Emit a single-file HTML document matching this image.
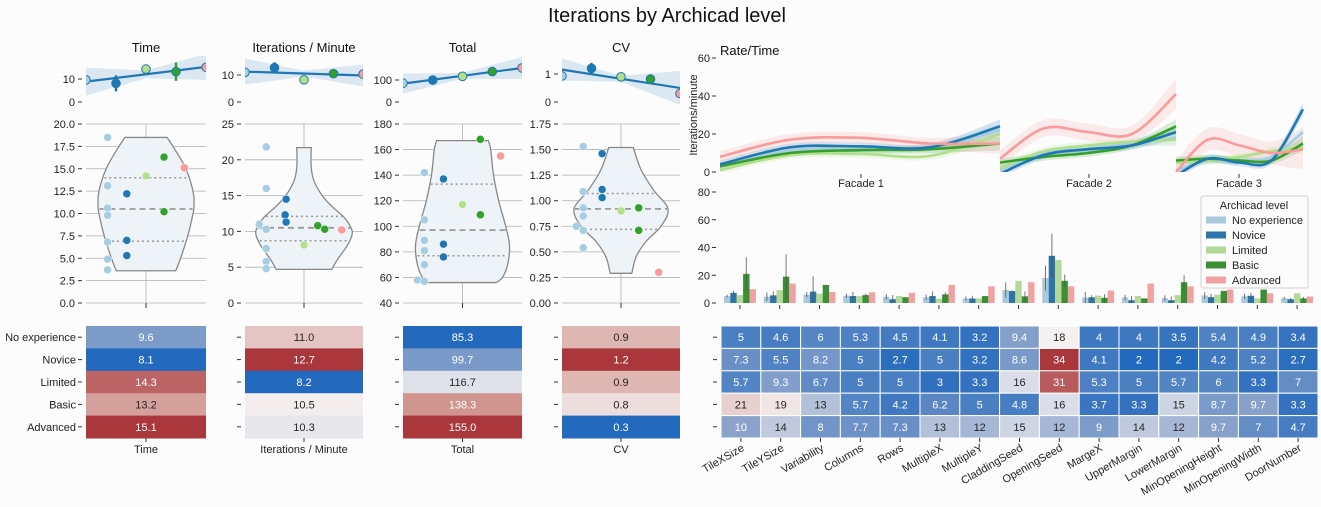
<!DOCTYPE html>
<html><head><meta charset="utf-8">
<style>
html,body{margin:0;padding:0;background:#fcfcfc;}
svg{display:block;font-family:"Liberation Sans","DejaVu Sans",sans-serif;}
</style></head>
<body>
<svg id="fig" width="1321" height="507" viewBox="0 0 1321 507" xmlns="http://www.w3.org/2000/svg">
<rect x="0" y="0" width="1321" height="507" fill="#fcfcfc"/>
<text x="667" y="22" font-size="20" text-anchor="middle" fill="#111">Iterations by Archicad level</text>
</svg>
<script>
// ---------- DATA ----------
const levels = ["No experience","Novice","Limited","Basic","Advanced"];
const levelColors = ["#a6cee3","#1f78b4","#b2df8a","#33a02c","#fb9a99"];
const barColors = ["#abc9dc","#2e74a8","#b3d898","#3a8f34","#efa2a1"];

const metricNames = ["Time","Iterations / Minute","Total","CV"];
const timeMeans = [9.6, 8.1, 14.3, 13.2, 15.1];
const iterMeans = [11.0, 12.7, 8.2, 10.5, 10.3];
const totalMeans = [85.3, 99.7, 116.7, 138.3, 155.0];
const cvMeans = [0.9, 1.2, 0.9, 0.8, 0.3];
const cvMeansExact = [0.93, 1.2, 0.9, 0.82, 0.3];
const timeErr = [0, 3.5, 0, 4, 0];
const iterErr = [0, 2, 0, 0.5, 0];
const totalErr = [0, 14, 0, 13, 0];
const cvErr = [0, 0.2, 0, 0.1, 0];

const timeTicks = ["0.0","2.5","5.0","7.5","10.0","12.5","15.0","17.5","20.0"];
const iterTicks = ["0","5","10","15","20","25"];
const totalTicks = ["40","60","80","100","120","140","160","180"];
const cvTicks = ["0.00","0.25","0.50","0.75","1.00","1.25","1.50","1.75"];

const timePtsLevel = [0,0,0,0,0,0,0,1,1,1,2,3,3,4];
const timePtsValue = [18.5,13.1,10.6,9.8,6.8,4.9,3.7,12.2,7.0,5.3,14.2,16.3,10.2,15.1];
const iterPtsLevel = [0,0,0,0,0,0,0,1,1,1,2,3,3,4];
const iterPtsValue = [21.8,16.0,11.0,10.3,7.6,5.8,4.8,14.5,12.3,11.3,8.1,10.8,10.3,10.2];
const totalPtsLevel = [0,0,0,0,0,0,0,1,1,1,2,3,3,4];
const totalPtsValue = [142,105,89,81,70,58,57,137,86,76,117,168,109,155];
const cvPtsLevel = [0,0,0,0,0,0,0,1,1,1,2,3,3,4];
const cvPtsValue = [1.53,1.09,0.93,0.85,0.75,0.71,0.54,1.46,1.11,1.03,0.90,0.93,0.71,0.30];

const timeViolinV = [3.6,5,7.5,10,11,12.5,15,17,18.5];
const timeViolinW = [0.62,0.72,0.87,0.98,1.0,0.98,0.83,0.62,0.44];
const iterViolinV = [4.7,6,8,9.5,10.5,12,13.5,15,17,19,21.7];
const iterViolinW = [0.58,0.69,0.9,1.0,0.98,0.83,0.58,0.38,0.21,0.15,0.15];
const totalViolinV = [56,60,70,85,100,120,140,160,167];
const totalViolinW = [0.72,0.85,0.96,1.0,0.92,0.77,0.66,0.6,0.55];
const cvViolinV = [0.29,0.45,0.6,0.75,0.92,1.1,1.3,1.52];
const cvViolinW = [0.23,0.32,0.53,0.85,1.0,0.7,0.43,0.26];
const timeQuart = [6.9,10.5,14.0];
const iterQuart = [8.7,10.5,12.1];
const totalQuart = [77,97,133];
const cvQuart = [0.72,0.92,1.07];

const facades = ["Facade 1","Facade 2","Facade 3"];
const rateTicks = ["0","20","40","60"];
const rateF1 = [[3,11,12,13,22],[4,13,13.5,13,24],[1,9,9.5,8.5,20],[3,10,11.5,12,15],[8,17,18,15,15]];
const rateF2 = [[1,10,12,15,18],[-1,9,12,14,21],[2,11,14,16,17],[5,8,10,14,24],[7,23,21,20,41]];
const rateF3 = [[1,6,6,8,21],[-2,7,5,6,33],[5,6,8,11,13],[6,7,6,6,15],[0,17,14,10,12]];

const features = ["TileXSize","TileYSize","Variability","Columns","Rows","MultipleX","MultipleY","CladdingSeed","OpeningSeed","MargeX","UpperMargin","LowerMargin","MinOpeningHeight","MinOpeningWidth","DoorNumber"];
const featNoExp = [5,4.6,6,5.3,4.5,4.1,3.2,9.4,18,4,4,3.5,5.4,4.9,3.4];
const featNovice = [7.3,5.5,8.2,5,2.7,5,3.2,8.6,34,4.1,2,2,4.2,5.2,2.7];
const featLimited = [5.7,9.3,6.7,5,5,3,3.3,16,31,5.3,5,5.7,6,3.3,7];
const featBasic = [21,19,13,5.7,4.2,6.2,5,4.8,16,3.7,3.3,15,8.7,9.7,3.3];
const featAdvanced = [10,14,8,7.7,7.3,13,12,15,12,9,14,12,9.7,7,4.7];
const errNoExp = [1,3,2,1.5,2,2,1.5,5.5,9,4,2,2,2.5,2,1];
const errNovice = [1.5,3,11,3,3,3.5,2,0.5,16,1.5,3,2.5,2.5,2,1];
const errLimited = [0,0,0,0,0,0,0,0,0,0,0,0,0,0,0];
const errBasic = [12,16,0,1,0,1.5,0,3.5,4.5,2.5,0,5,0,0,1];
const errAdvanced = [0,0,0,0,0,0,0,0,0,0,0,0,0,0,0];
const barTicks = ["0","20","40","60","80"];

// ---------- HELPERS ----------
const svg = document.getElementById('fig');
const NS = "http://www.w3.org/2000/svg";
function mk(tag, attrs, parent){
  const e = document.createElementNS(NS, tag);
  for (const k in attrs) e.setAttribute(k, attrs[k]);
  (parent||svg).appendChild(e);
  return e;
}
function txt(x,y,s,size,anchor,parent,fill){
  const t = mk('text',{x:x,y:y,'font-size':size||11,'text-anchor':anchor||'middle',fill:fill||'#222'},parent);
  t.textContent = s; return t;
}
const stops = [[0,[35,105,189]],[0.25,[139,163,203]],[0.5,[245,241,241]],[0.75,[210,152,147]],[1,[169,55,59]]];
function cmap(t){
  t=Math.max(0,Math.min(1,t));
  for(let i=0;i<stops.length-1;i++){
    const a=stops[i],b=stops[i+1];
    if(t<=b[0]){const f=(t-a[0])/(b[0]-a[0]);
      return a[1].map((c,j)=>Math.round(c+(b[1][j]-c)*f));}
  }
  return stops[4][1];
}
function lum(c){
  const l=c.map(v=>{v/=255;return v<=0.03928?v/12.92:Math.pow((v+0.055)/1.055,2.4);});
  return 0.2126*l[0]+0.7152*l[1]+0.0722*l[2];
}
function rgb(c){return 'rgb('+c.join(',')+')';}
function smoothPath(pts){
  let d='M'+pts[0][0]+','+pts[0][1];
  for(let i=0;i<pts.length-1;i++){
    const p0=pts[Math.max(0,i-1)],p1=pts[i],p2=pts[i+1],p3=pts[Math.min(pts.length-1,i+2)];
    const c1=[p1[0]+(p2[0]-p0[0])/6,p1[1]+(p2[1]-p0[1])/6];
    const c2=[p2[0]-(p3[0]-p1[0])/6,p2[1]-(p3[1]-p1[1])/6];
    d+=' C'+c1[0]+','+c1[1]+' '+c2[0]+','+c2[1]+' '+p2[0]+','+p2[1];
  }
  return d;
}
const defs = mk('defs',{});

// ---------- SMALL PANELS ----------
const panels = [
 {key:'time',lx:86,rx:206,means:timeMeans,err:timeErr,topMax:10,topY:79,topLabel:'10',
  ticks:timeTicks,vmin:0,vmax:20,ptsL:timePtsLevel,ptsV:timePtsValue,vV:timeViolinV,vW:timeViolinW,hw:48,q:timeQuart,
  heat:timeMeans,fmt:1,band:[10,4,9]},
 {key:'iterations',lx:245,rx:363,means:iterMeans,err:iterErr,topMax:10,topY:75,topLabel:'10',
  ticks:iterTicks,vmin:0,vmax:25,ptsL:iterPtsLevel,ptsV:iterPtsValue,vV:iterViolinV,vW:iterViolinW,hw:48,q:iterQuart,
  heat:iterMeans,fmt:1,band:[10,3,8]},
 {key:'total',lx:403,rx:522,means:totalMeans,err:totalErr,topMax:100,topY:80,topLabel:'100',
  ticks:totalTicks,vmin:40,vmax:180,ptsL:totalPtsLevel,ptsV:totalPtsValue,vV:totalViolinV,vW:totalViolinW,hw:47,q:totalQuart,
  heat:totalMeans,fmt:1,band:[7,3,8]},
 {key:'cv',lx:562,rx:680,means:cvMeansExact,err:cvErr,topMax:1,topY:74,topLabel:'1',
  ticks:cvTicks,vmin:0,vmax:1.75,ptsL:cvPtsLevel,ptsV:cvPtsValue,vV:cvViolinV,vW:cvViolinW,hw:47,q:cvQuart,
  heat:cvMeans,fmt:1,band:[8,3,14]}
];
const jitter = [0,0,-7,0,0,0,0,0,1,-1,0,0,2,0];
const jitterIter = [0,0,-7,0,0,0,0,1,0,1,0,-4,3,0];

panels.forEach((p,pi)=>{
  const g = mk('g',{});
  
  
  const cx=(p.lx+p.rx)/2, w=p.rx-p.lx;
  txt(cx,52,metricNames[pi],13,'middle',g,'#111');
  const ty = v => 102 - v/p.topMax*(102-p.topY);
  const xs = levels.map((_,i)=>p.lx+i*w/4);
  const cp = mk('clipPath',{id:'clip'+pi},defs);
  mk('rect',{x:p.lx,y:56,width:w,height:48},cp);
  const tg = mk('g',{'clip-path':'url(#clip'+pi+')'},g);
  
  
  const n=5, mx=2; let sxy=0,sxx=0,my=p.means.reduce((a,b)=>a+b)/n;
  p.means.forEach((v,i)=>{sxy+=(i-mx)*(v-my);sxx+=(i-mx)*(i-mx);});
  const slope=sxy/sxx, icpt=my-slope*mx;
  const fy = i=>ty(icpt+slope*i);
  let up='',dn='';
  for(let k=0;k<=20;k++){const i=k/5; const hb=p.band[1]+(Math.abs(i-2)/2)*(i<2?p.band[0]:p.band[2]);
    up+=(k?'L':'M')+(p.lx+i*w/4)+','+(fy(i)-hb)+' '; dn=' L'+(p.lx+i*w/4)+','+(fy(i)+hb)+dn;}
  const band=mk('path',{d:up+dn+'Z',fill:'#1f77b4','fill-opacity':0.15,stroke:'none'},tg);
  
  
  const ln=mk('line',{x1:p.lx,y1:fy(0),x2:p.rx,y2:fy(4),stroke:'#1f77b4','stroke-width':2.2},tg);
  
  
  p.means.forEach((v,i)=>{
    if(p.err[i]>0){
      const eb=mk('line',{x1:xs[i],x2:xs[i],y1:ty(v-p.err[i]),y2:ty(v+p.err[i]),stroke:levelColors[i]==='#a6cee3'?'#1f77b4':levelColors[i],'stroke-width':2.5},tg);
      
      
    }
    const c=mk('circle',{cx:xs[i],cy:ty(v),r:4.3,fill:levelColors[i],stroke:'#1f77b4','stroke-width':1},tg);
    
    
  });
  [[0,'0'],[p.topMax,p.topLabel]].forEach(t=>{
    mk('line',{x1:p.lx-8,x2:p.lx-4,y1:ty(t[0]),y2:ty(t[0]),stroke:'#333'},g);
    txt(p.lx-11,ty(t[0])+4,t[1],11,'end',g);
  });
  const vy = v => 303 - (v-p.vmin)/(p.vmax-p.vmin)*179;
  const vg = mk('g',{},g);
  
  
  p.ticks.forEach(t=>{
    const y=vy(parseFloat(t));
    mk('line',{x1:p.lx,x2:p.rx,y1:y,y2:y,stroke:'#b0b0b0','stroke-width':0.8},vg);
    mk('line',{x1:p.lx-8,x2:p.lx-4,y1:y,y2:y,stroke:'#333'},vg);
    const tl=txt(p.lx-11,y+4,t,11,'end',vg);
    
    
  });
  mk('line',{x1:cx,x2:cx,y1:124,y2:303,stroke:'#b0b0b0','stroke-width':0.8},vg);
  mk('line',{x1:cx,x2:cx,y1:303,y2:308,stroke:'#333'},vg);
  const R=[],L=[];
  p.vV.forEach((v,i)=>{R.push([cx+p.vW[i]*p.hw,vy(v)]);L.push([cx-p.vW[i]*p.hw,vy(v)]);});
  let d='M'+L[0][0]+','+L[0][1]+' L'+R[0][0]+','+R[0][1];
  d+=' '+smoothPath(R).replace(/^M[^ ]+/,'');
  d+=' L'+L[L.length-1][0]+','+L[L.length-1][1];
  d+=' '+smoothPath(L.slice().reverse()).replace(/^M[^ ]+/,'')+' Z';
  const vio=mk('path',{d:d,fill:'#edf3f7',stroke:'#888','stroke-width':1.3},vg);
  
  
  function wAt(v){for(let i=0;i<p.vV.length-1;i++){if(v>=p.vV[i]&&v<=p.vV[i+1]){const f=(v-p.vV[i])/(p.vV[i+1]-p.vV[i]);return (p.vW[i]+(p.vW[i+1]-p.vW[i])*f)*p.hw;}}return 0;}
  p.q.forEach((v,i)=>{
    const hw=wAt(v)-1;
    const ql=mk('line',{x1:cx-hw,x2:cx+hw,y1:vy(v),y2:vy(v),stroke:'#999','stroke-width':i===1?1.8:1.5,'stroke-dasharray':i===1?'6,4':'2,3'},vg);
    
    
  });
  const offs=[-0.32,-0.16,0,0.15,0.32];
  const jit = pi===1?jitterIter:(pi===3?[0,0,0,0,-7,0,0,0,0,0,0,0,0,0]:(pi===2?[0,0,0,0,0,-7,0,0,0,0,0,0,0,0]:jitter.map(()=>0)));
  p.ptsV.forEach((v,i)=>{
    const l=p.ptsL[i];
    const c=mk('circle',{cx:cx+offs[l]*w+jit[i],cy:vy(v),r:4,fill:levelColors[l],stroke:'#fff','stroke-width':0.5},vg);
    
    
  });
  const hg = mk('g',{},g);
  
  
  const mn=Math.min(...p.heat), mxv=Math.max(...p.heat);
  const rh=22.4;
  p.heat.forEach((v,i)=>{
    const col=cmap((v-mn)/(mxv-mn));
    const r=mk('rect',{x:p.lx,y:326+i*rh,width:w,height:rh+0.5,fill:rgb(col)},hg);
    
    
    txt(cx,326+i*rh+rh/2+4,v.toFixed(p.fmt),11,'middle',hg,lum(col)<0.408?'#fff':'#262626');
    mk('line',{x1:p.lx-8,x2:p.lx-4,y1:326+i*rh+rh/2,y2:326+i*rh+rh/2,stroke:'#333'},hg);
    if(pi===0){
      const yl=txt(p.lx-10,326+i*rh+rh/2+4,levels[i],11,'end',hg);
      
      
    }
  });
  mk('line',{x1:cx,x2:cx,y1:438,y2:442,stroke:'#333'},hg);
  txt(cx,453,metricNames[pi],11,'middle',hg);
});

// ---------- RATE / TIME ----------
const rg = mk('g',{});


txt(720,55,'Rate/Time',13,'start',rg,'#111');
const ry = v => 172 - v/60*114;
rateTicks.forEach(t=>{
  const y=ry(parseFloat(t));
  mk('line',{x1:712,x2:716,y1:y,y2:y,stroke:'#333'},rg);
  txt(710,y+4,t,11,'end',rg);
});
const yl = txt(0,0,'Iterations/minute',11,'middle',rg);
yl.setAttribute('transform','translate(697,115) rotate(-90)');


const segs=[[720,1000,rateF1],[1000,1176,rateF2],[1176,1303,rateF3]];
const rcp = mk('clipPath',{id:'rclip'},defs);
mk('rect',{x:720,y:55,width:590,height:117},rcp);
const rcg = mk('g',{'clip-path':'url(#rclip)'},rg);
segs.forEach((s,si)=>{
  const [a,b,data]=s;
  const xs=[0,1,2,3,4].map(k=>a+(b-a)*k/4);
  data.forEach((vals,li)=>{
    const spread = li===4?3+si*1.5:2;
    const up=vals.map((v,k)=>[xs[k],ry(v+spread*(k===4?1.8:1))]);
    const dn=vals.map((v,k)=>[xs[k],ry(v-spread*(k===4?1.8:1))]).reverse();
    const bp=mk('path',{d:smoothPath(up)+' L'+dn[0][0]+','+dn[0][1]+smoothPath(dn).replace(/^M[^ ]+/,'')+' Z',fill:levelColors[li],'fill-opacity':0.18,stroke:'none'},rcg);
    
    
  });
  [0,2,3,1,4].forEach(li=>{
    const vals=data[li];
    const lp=mk('path',{d:smoothPath(vals.map((v,k)=>[xs[k],ry(v)])),fill:'none',stroke:levelColors[li],'stroke-width':2.6},rcg);
    
    
  });
  const cxs=[861,1089,1239][si];
  mk('line',{x1:cxs,x2:cxs,y1:174,y2:178,stroke:'#333'},rg);
  const fl=txt(cxs,187,facades[si],11,'middle',rg);
  
  
});

// ---------- BARS ----------
const bg = mk('g',{});


const by = v => 303 - v/80*111;
barTicks.forEach(t=>{
  const y=by(parseFloat(t));
  mk('line',{x1:712,x2:716,y1:y,y2:y,stroke:'#333'},bg);
  txt(710,y+4,t,11,'end',bg);
});
const series=[featNoExp,featNovice,featLimited,featBasic,featAdvanced];
const errs=[errNoExp,errNovice,errLimited,errBasic,errAdvanced];
const gw=39.8, bw=6.4;
features.forEach((f,fi)=>{
  const gc=720+gw*(fi+0.5);
  series.forEach((s,li)=>{
    const x=gc-16+li*bw;
    const r=mk('rect',{x:x,y:by(s[fi]),width:bw,height:303-by(s[fi]),fill:barColors[li]},bg);
    
    
    const e=errs[li][fi];
    if(e>0) mk('line',{x1:x+bw/2,x2:x+bw/2,y1:by(Math.max(0,s[fi]-e)),y2:by(s[fi]+e),stroke:'#555','stroke-width':1,'stroke-opacity':0.8},bg);
  });
  mk('line',{x1:gc,x2:gc,y1:305,y2:309,stroke:'#333'},bg);
});
const lg = mk('g',{});


mk('rect',{x:1201,y:196,width:107,height:92,fill:'#fcfcfc','fill-opacity':0.9,stroke:'#d0d0d0',rx:2},lg);
txt(1254,209,'Archicad level',11,'middle',lg);
levels.forEach((l,i)=>{
  const y=220+i*15;
  const pr=mk('rect',{x:1206,y:y-3.5,width:20,height:7,fill:barColors[i]},lg);
  
  
  const lt=txt(1232,y+4,l,11,'start',lg);
  
  
});

// ---------- FEATURE HEATMAP ----------
const fg = mk('g',{});


const all=[].concat(...series), fmin=Math.min(...all), fmax=Math.max(...all);
const cw=(1318-721)/15, ch=22.4;
series.forEach((s,li)=>{
  s.forEach((v,fi)=>{
    const col=cmap((v-fmin)/(fmax-fmin));
    const x=721+fi*cw, y=326+li*ch;
    const r=mk('rect',{x:x,y:y,width:cw,height:ch,fill:rgb(col),stroke:'#fff','stroke-width':1},fg);
    
    
    txt(x+cw/2,y+ch/2+4,String(v),11,'middle',fg,lum(col)<0.408?'#fff':'#262626');
  });
  mk('line',{x1:713,x2:717,y1:326+li*ch+ch/2,y2:326+li*ch+ch/2,stroke:'#333'},fg);
});
features.forEach((f,fi)=>{
  const x=721+fi*cw+cw/2;
  mk('line',{x1:x,x2:x,y1:438,y2:442,stroke:'#333'},fg);
  const t=txt(0,0,f,11,'end',fg);
  t.setAttribute('transform','translate('+(x+4)+',450) rotate(-30)');
  
  
});
</script>
</body></html>
